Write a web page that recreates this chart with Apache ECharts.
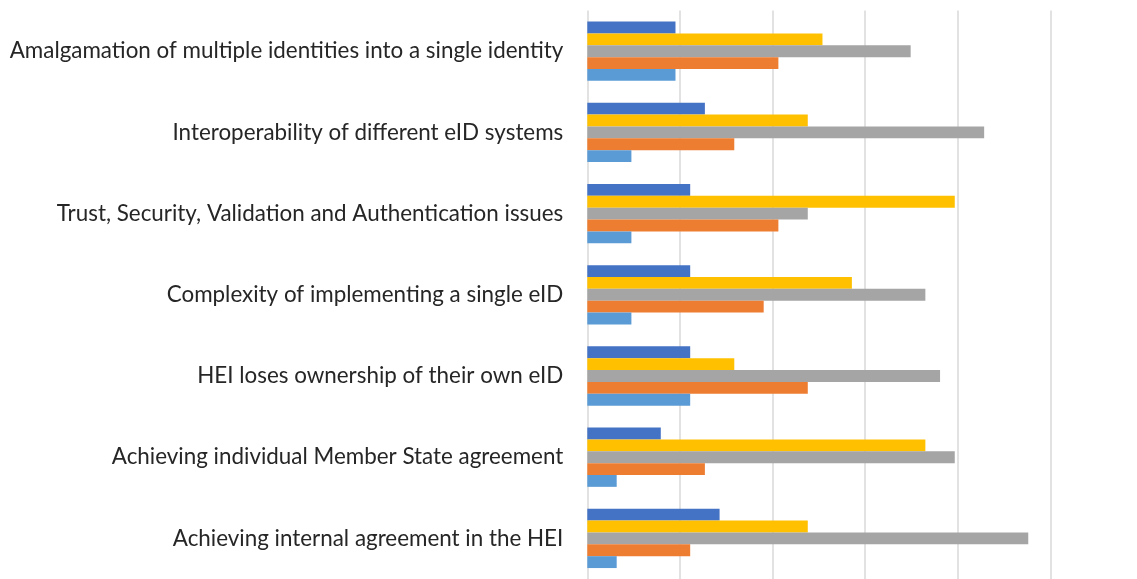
<!DOCTYPE html>
<html>
<head>
<meta charset="utf-8">
<script src="https://cdn.jsdelivr.net/npm/echarts@6/dist/echarts.min.js"></script>
<style>
html,body{margin:0;padding:0;background:#fff;}
#chart{width:1137px;height:579px;}
</style>
</head>
<body>
<div id="chart"></div>
<script>
// categories listed top to bottom as in the picture
var categories = [
  "Amalgamation of multiple identities into a single identity",
  "Interoperability of different eID systems",
  "Trust, Security, Validation and Authentication issues",
  "Complexity of implementing a single eID",
  "HEI loses ownership of their own eID",
  "Achieving individual Member State agreement",
  "Achieving internal agreement in the HEI"
];
// series values (counts), same order as categories
var seriesLightBlue = [6, 3, 3, 3, 7, 2, 2];
var seriesOrange    = [13, 10, 13, 12, 15, 8, 7];
var seriesGray      = [22, 27, 15, 23, 24, 25, 30];
var seriesYellow    = [16, 15, 25, 18, 10, 23, 15];
var seriesDarkBlue  = [6, 8, 7, 7, 7, 5, 9];

var axisMax = 31.5;
var axisInterval = 6.3;

var chart = echarts.init(document.getElementById('chart'), null, {renderer: 'canvas'});
function mk(name, data, color) {
  return {
    name: name, type: 'bar', data: data,
    barWidth: 11.86, barGap: '0%',
    itemStyle: {color: color},
    animation: false
  };
}
chart.setOption({
  animation: false,
  grid: {left: 587.3, right: 86.7, top: 10.6, height: 570.8, containLabel: false},
  xAxis: {
    type: 'value', min: 0, max: axisMax, interval: axisInterval,
    axisLabel: {show: false}, axisLine: {show: false}, axisTick: {show: false},
    splitLine: {show: true, lineStyle: {color: '#d9d9d9', width: 1.5}}
  },
  yAxis: {
    type: 'category', data: categories, inverse: true,
    axisLine: {show: false}, axisTick: {show: false},
    axisLabel: {margin: 24, color: '#262626', fontFamily: 'Lato', fontSize: 22.4}
  },
  series: [
    mk('S5', seriesDarkBlue, '#4472C4'),
    mk('S4', seriesYellow, '#FFC000'),
    mk('S3', seriesGray, '#A5A5A5'),
    mk('S2', seriesOrange, '#ED7D31'),
    mk('S1', seriesLightBlue, '#5B9BD5')
  ]
});
</script>
</body>
</html>
